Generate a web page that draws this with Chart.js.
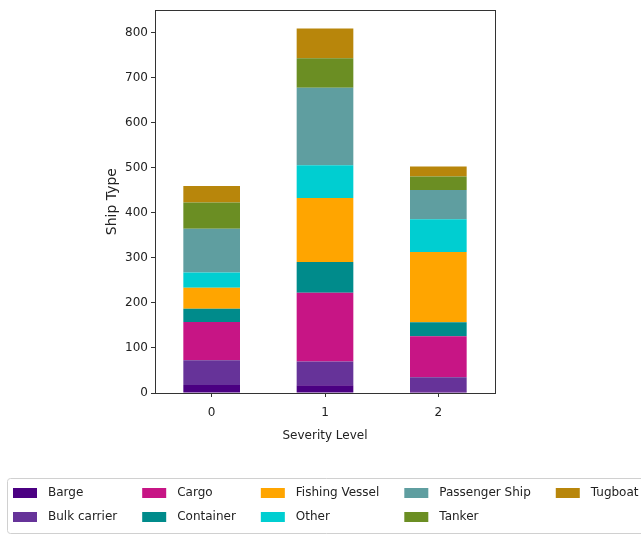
<!DOCTYPE html>
<html>
<head>
<meta charset="utf-8">
<script src="https://cdn.jsdelivr.net/npm/chart.js@4"></script>
<style>
    html, body { margin: 0; padding: 0; background: #fff; }
    #chart { display: block; }
</style>
</head>
<body>
<canvas id="chart" width="641" height="535"></canvas>
<script>
// Severity levels on the x axis
const severityLevels = ['0', '1', '2'];

// Ship type counts per severity level
const shipTypes = ['Barge', 'Bulk carrier', 'Cargo', 'Container', 'Fishing Vessel',
    'Other', 'Passenger Ship', 'Tanker', 'Tugboat'];
const barge = [18, 17, 4];
const bulkCarrier = [55, 53, 31];
const cargo = [85, 153, 91];
const container = [29, 68, 31];
const fishingVessel = [47, 142, 156];
const other = [34, 73, 73];
const passengerShip = [97, 172, 65];
const tanker = [58, 66, 30];
const tugboat = [37, 66, 22];
const seriesValues = [barge, bulkCarrier, cargo, container, fishingVessel,
    other, passengerShip, tanker, tugboat];

const yTicks = [0, 100, 200, 300, 400, 500, 600, 700, 800];
const yMax = 850.5;

const colors = ['#4B0082', '#663399', '#C71585', '#008B8B', '#FFA500',
    '#00CED1', '#5F9EA0', '#6B8E23', '#B8860B'];

const FONT = "'DejaVu Sans', 'Noto Sans', sans-serif";
Chart.defaults.font.family = FONT;
Chart.defaults.font.size = 12;
Chart.defaults.color = '#222';

// Full box around the plot, like matplotlib spines
const framePlugin = {
    id: 'frame',
    afterDraw(chart) {
        const { ctx, chartArea: a } = chart;
        ctx.save();
        ctx.strokeStyle = '#333';
        ctx.lineWidth = 1;
        ctx.strokeRect(Math.round(a.left) + 0.5, Math.round(a.top) + 0.5,
            Math.round(a.right - a.left), Math.round(a.bottom - a.top));
        ctx.restore();
    }
};

// Legend below the chart, 5 columns filled column by column
const legendPlugin = {
    id: 'bottomLegend',
    afterDraw(chart) {
        const ctx = chart.ctx;
        const rows = 2;
        const handle = 24, pad = 11, colGap = 25;
        const rowY = [493, 517];
        ctx.save();
        ctx.font = '12px ' + FONT;

        // legend frame
        ctx.strokeStyle = '#d0d0d0';
        ctx.lineWidth = 1;
        ctx.beginPath();
        ctx.roundRect(7.5, 478.5, 640, 55, 3);
        ctx.stroke();

        let x = 13;
        const cols = Math.ceil(shipTypes.length / rows);
        for (let c = 0; c < cols; c++) {
            let maxW = 0;
            for (let r = 0; r < rows; r++) {
                const i = c * rows + r;
                if (i >= shipTypes.length) break;
                const y = rowY[r];
                ctx.fillStyle = colors[i];
                ctx.fillRect(x, y - 5, handle, 10);
                ctx.fillStyle = '#222';
                ctx.textBaseline = 'middle';
                ctx.fillText(shipTypes[i], x + handle + pad, y);
                maxW = Math.max(maxW, ctx.measureText(shipTypes[i]).width);
            }
            x += handle + pad + maxW + colGap;
        }
        ctx.restore();
    }
};

new Chart(document.getElementById('chart'), {
    type: 'bar',
    data: {
        labels: severityLevels,
        datasets: shipTypes.map((name, i) => ({
            label: name,
            data: seriesValues[i],
            backgroundColor: colors[i],
            borderWidth: 0,
            barPercentage: 0.5,
            categoryPercentage: 1.0
        }))
    },
    options: {
        responsive: false,
        animation: false,
        layout: { padding: { left: 100, right: 146, top: 7, bottom: 88 } },
        plugins: {
            legend: { display: false },
            tooltip: { enabled: false }
        },
        scales: {
            x: {
                stacked: true,
                afterFit: (scale) => { scale.height = 54; },
                grid: { display: true, drawOnChartArea: false, drawTicks: true, tickLength: 4, color: '#333', offset: false },
                border: { display: false },
                ticks: { padding: 9, color: '#222' },
                title: { display: true, text: 'Severity Level', color: '#222', padding: 4 }
            },
            y: {
                stacked: true,
                min: 0,
                max: yMax,
                afterFit: (scale) => { scale.width = 55; },
                afterBuildTicks: (scale) => { scale.ticks = yTicks.map(v => ({ value: v })); },
                grid: { display: true, drawOnChartArea: false, drawTicks: true, tickLength: 4, color: '#333' },
                border: { display: false },
                ticks: { padding: 3, color: '#222' },
                title: { display: true, text: 'Ship Type', color: '#222', padding: 4, font: { size: 14 } }
            }
        }
    },
    plugins: [framePlugin, legendPlugin]
});
</script>
</body>
</html>
